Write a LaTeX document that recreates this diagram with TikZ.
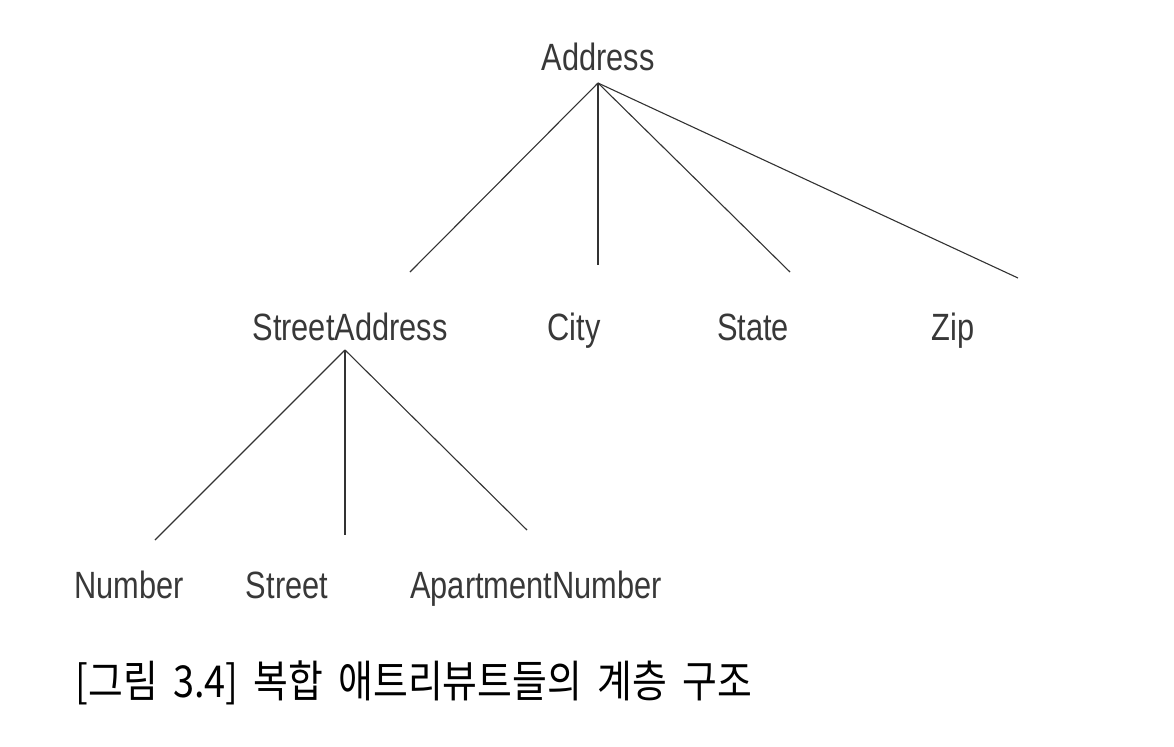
\documentclass[tikz,border=0pt]{standalone}
\usepackage{fontspec}
\usepackage{tikz}
\newfontfamily\attrfont[FakeStretch=0.81]{Liberation Sans}
\newfontfamily\capfont[FakeStretch=0.86, WordSpace=1.8]{Noto Sans CJK KR}

\begin{document}
\begin{tikzpicture}[x=0.5pt, y=-0.5pt,
  attr/.style={anchor=base, inner sep=0pt, text=black!78, font=\attrfont\fontsize{19pt}{22pt}\selectfont},
  link/.style={draw=black!80, line width=0.55pt}]
\useasboundingbox (0,0) rectangle (1174,746);

\node[attr] (addr) at (598,70) {Address};
\coordinate (addr-foot) at (598,83);

\node[attr] (street-addr) at (350,340) {StreetAddress};
\node[attr] (city) at (574,340) {City};
\node[attr] (state) at (753,340) {State};
\node[attr] (zip) at (953,340) {Zip};
\coordinate (street-addr-head) at (410,272);
\coordinate (city-head) at (598,265);
\coordinate (state-head) at (790,272);
\coordinate (zip-head) at (1018,278);
\coordinate (street-addr-foot) at (345,350);

\node[attr] (number) at (129,598) {Number};
\node[attr] (street) at (287,598) {Street};
\node[attr] (apt-number) at (536,598) {ApartmentNumber};
\coordinate (number-head) at (155,540);
\coordinate (street-head) at (345,535);
\coordinate (apt-number-head) at (527,530);

\draw[link] (addr-foot) -- (street-addr-head);
\draw[link] (addr-foot) -- (city-head);
\draw[link] (addr-foot) -- (state-head);
\draw[link] (addr-foot) -- (zip-head);

\draw[link] (street-addr-foot) -- (number-head);
\draw[link] (street-addr-foot) -- (street-head);
\draw[link] (street-addr-foot) -- (apt-number-head);

\node[anchor=base west, inner sep=0pt, font=\capfont\fontsize{22pt}{26pt}\selectfont] (caption) at (75,697) {[그림 3.4] 복합 애트리뷰트들의 계층 구조};
\end{tikzpicture}
\end{document}
